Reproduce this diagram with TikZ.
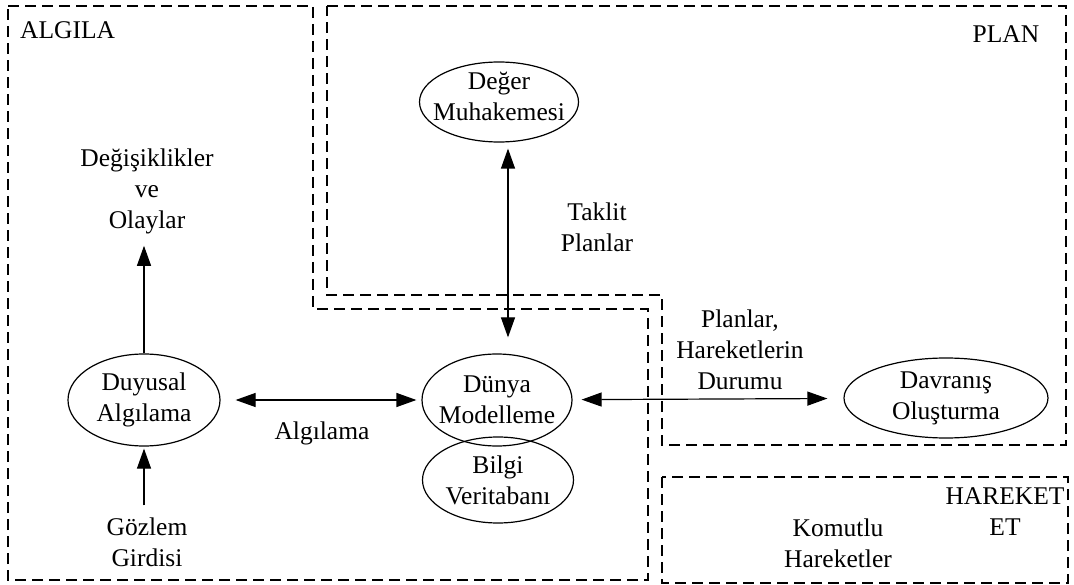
\documentclass[tikz,border=0pt]{standalone}
\usepackage{fontspec}
\setmainfont{Liberation Serif}
\usetikzlibrary{arrows.meta,shapes.geometric,calc}
\begin{document}
\begin{tikzpicture}[x=1pt,y=-1pt,
  region/.style={dash pattern=on 11pt off 6pt, line width=1.2pt},
  proc/.style={ellipse, draw, line width=1.2pt, inner sep=0pt},
  lbl/.style={align=center, inner sep=0pt, font=\fontsize{25.5}{31}\selectfont},
  tip/.tip={Triangle[length=20pt,width=14pt]},
  link/.style={line width=1.2pt, -tip},
  dlink/.style={line width=1.2pt, tip-tip}]
\useasboundingbox (0,0) rectangle (1074,585);

% functional regions
\draw[region] (8,6) -- (313,6) -- (313,309) -- (648,309) -- (648,580) -- (8,580) -- cycle;
\draw[region] (327,6) -- (1066,6) -- (1066,445) -- (662,445) -- (662,295) -- (327,295) -- cycle;
\draw[region] (662,477) rectangle (1068,583);

\node[lbl, anchor=west] (algila) at (20,30) {ALGILA};
\node[lbl] (plan) at (1006,34) {PLAN};
\node[lbl] (hareket) at (1005,512) {HAREKET\\ET};

% processes
\node[proc, minimum width=159pt, minimum height=80pt] (deger) at (499,102) {};
\node[lbl] (degerT) at (499,96) {Değer\\Muhakemesi};
\node[proc, minimum width=152pt, minimum height=92pt] (duyusal) at (144,400) {};
\node[lbl] (duyusalT) at (duyusal) {Duyusal\\Algılama};
\node[proc, minimum width=151pt, minimum height=86pt] (bilgi) at (498,480) {};
\node[lbl] (bilgiT) at (bilgi) {Bilgi\\Veritabanı};
\node[proc, minimum width=150pt, minimum height=92pt] (dunya) at (497,400) {};
\node[lbl] (dunyaT) at (dunya) {Dünya\\Modelleme};
\node[proc, minimum width=204pt, minimum height=80pt] (davranis) at (946,398) {};
\node[lbl] (davranisT) at (davranis) {Davranış\\Oluşturma};

% free texts
\node[lbl] (olay) at (147,191) {Değişiklikler\\ve\\Olaylar};
\node[lbl] (gozlem) at (147,542) {Gözlem\\Girdisi};
\node[lbl] (taklit) at (597,227) {Taklit\\Planlar};
\node[lbl] (algT) at (322,433) {Algılama};
\node[lbl] (planlar) at (740,350) {Planlar,\\Hareketlerin\\Durumu};
\node[lbl] (komut) at (838,543) {Komutlu\\Hareketler};

% connectors
\draw[link, shorten >=12pt] (duyusal) -- (olay.south -| duyusal);
\draw[link, shorten <=12pt, shorten >=2pt] (gozlem.north -| duyusal) -- (duyusal);
\draw[dlink, shorten <=15pt, shorten >=5pt] (duyusal) -- (dunya);
\draw[dlink, shorten <=9pt, shorten >=16pt] (dunya) -- (davranis);
\draw[dlink, shorten <=6pt, shorten >=16pt]
  ([xshift=9pt]deger.south) -- ([xshift=9pt]deger.south |- dunya.north);
\end{tikzpicture}
\end{document}
